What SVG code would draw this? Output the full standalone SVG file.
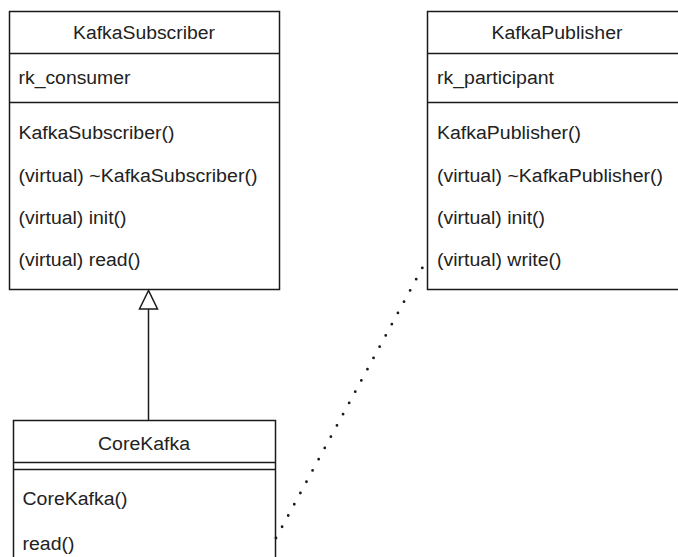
<svg xmlns="http://www.w3.org/2000/svg" width="678" height="557" viewBox="0 0 678 557">
  <style>
    .box { fill: #ffffff; stroke: #1a1a1a; stroke-width: 1.5; }
    .sep { stroke: #1a1a1a; stroke-width: 1.5; fill: none; }
    .t { font-family: "Liberation Sans", Arial, sans-serif; font-size: 18px; fill: #222222; }
    .h { text-anchor: middle; }
    .edge { stroke: #1a1a1a; stroke-width: 1.5; fill: none; }
    .head { stroke: #1a1a1a; stroke-width: 1.5; fill: #ffffff; }
    .dep { stroke: #1a1a1a; stroke-width: 2.8; fill: none; stroke-linecap: round; stroke-dasharray: 0 12.8; }
  </style>
  <rect width="678" height="557" fill="#ffffff"/>

  <!-- class KafkaSubscriber -->
  <g id="kafka-subscriber">
    <rect class="box" x="9.5" y="11.5" width="270" height="278"/>
    <line class="sep" x1="9.5" y1="53.5" x2="279.5" y2="53.5"/>
    <line class="sep" x1="9.5" y1="102.5" x2="279.5" y2="102.5"/>
    <text class="t h" x="144" y="38.5" textLength="142" lengthAdjust="spacingAndGlyphs">KafkaSubscriber</text>
    <text class="t" x="18.5" y="83.5" textLength="112" lengthAdjust="spacingAndGlyphs">rk_consumer</text>
    <text class="t" x="18.5" y="138.5" textLength="156" lengthAdjust="spacingAndGlyphs">KafkaSubscriber()</text>
    <text class="t" x="18.5" y="181.5" textLength="239" lengthAdjust="spacingAndGlyphs">(virtual) ~KafkaSubscriber()</text>
    <text class="t" x="18.5" y="223.5" textLength="108" lengthAdjust="spacingAndGlyphs">(virtual) init()</text>
    <text class="t" x="18.5" y="265.5" textLength="122" lengthAdjust="spacingAndGlyphs">(virtual) read()</text>
  </g>

  <!-- class KafkaPublisher -->
  <g id="kafka-publisher">
    <rect class="box" x="427.5" y="11.5" width="260" height="278"/>
    <line class="sep" x1="427.5" y1="53.5" x2="687.5" y2="53.5"/>
    <line class="sep" x1="427.5" y1="102.5" x2="687.5" y2="102.5"/>
    <text class="t h" x="557" y="38.5" textLength="131" lengthAdjust="spacingAndGlyphs">KafkaPublisher</text>
    <text class="t" x="437" y="83.5" textLength="117" lengthAdjust="spacingAndGlyphs">rk_participant</text>
    <text class="t" x="437" y="138.5" textLength="144" lengthAdjust="spacingAndGlyphs">KafkaPublisher()</text>
    <text class="t" x="437" y="181.5" textLength="226" lengthAdjust="spacingAndGlyphs">(virtual) ~KafkaPublisher()</text>
    <text class="t" x="437" y="223.5" textLength="108" lengthAdjust="spacingAndGlyphs">(virtual) init()</text>
    <text class="t" x="437" y="265.5" textLength="124.5" lengthAdjust="spacingAndGlyphs">(virtual) write()</text>
  </g>

  <!-- class CoreKafka -->
  <g id="core-kafka">
    <rect class="box" x="13.5" y="420.5" width="262" height="160"/>
    <line class="sep" x1="13.5" y1="462.5" x2="275.5" y2="462.5"/>
    <line class="sep" x1="13.5" y1="469.5" x2="275.5" y2="469.5"/>
    <text class="t h" x="144" y="449.5" textLength="92" lengthAdjust="spacingAndGlyphs">CoreKafka</text>
    <text class="t" x="22.5" y="504.5" textLength="105" lengthAdjust="spacingAndGlyphs">CoreKafka()</text>
    <text class="t" x="22.5" y="549.5" textLength="52" lengthAdjust="spacingAndGlyphs">read()</text>
  </g>

  <!-- connectors -->
  <g id="connectors">
    <!-- generalization: CoreKafka to KafkaSubscriber -->
    <line class="edge" x1="148.5" y1="420" x2="148.5" y2="309"/>
    <polygon class="head" points="148.5,290.5 139.5,309 157.5,309"/>
    <!-- dependency: CoreKafka to KafkaPublisher -->
    <line class="dep" x1="276" y1="538" x2="425.5" y2="262"/>
  </g>
</svg>
